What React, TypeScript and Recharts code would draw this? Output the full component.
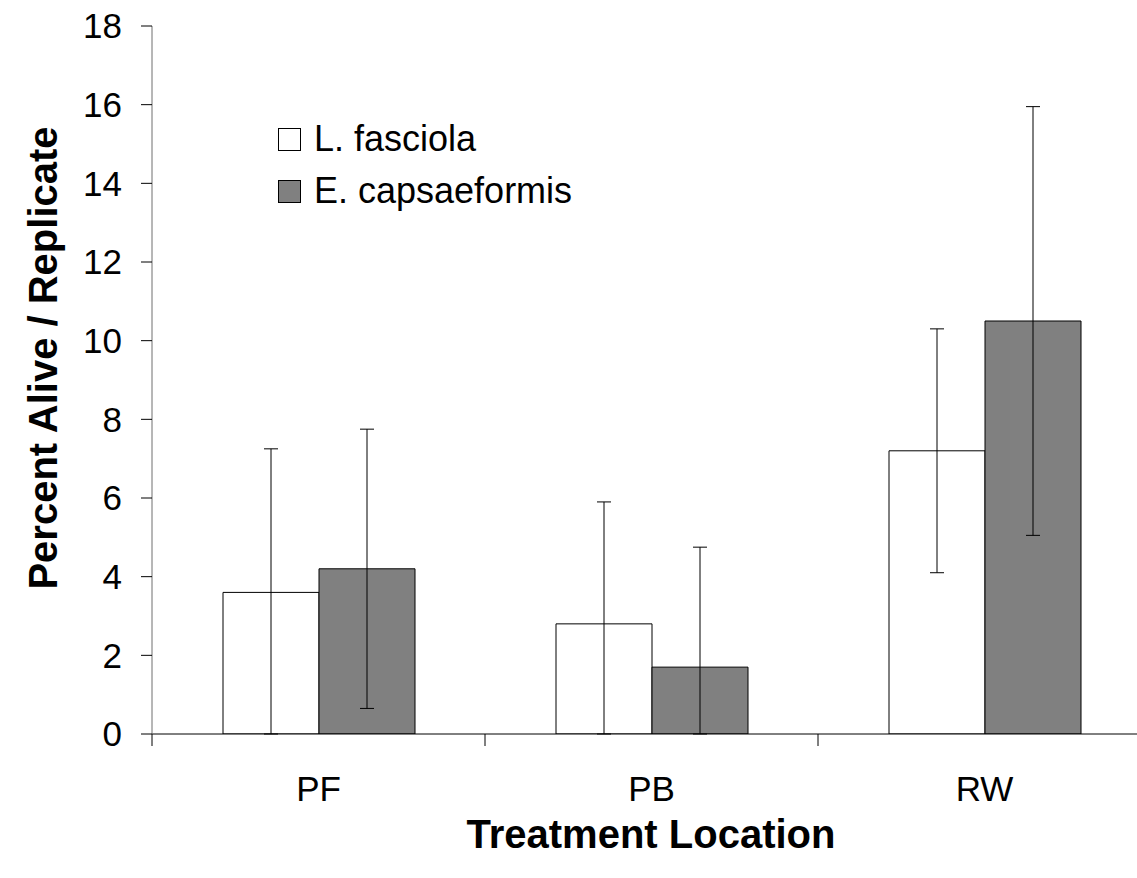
import { Bar, BarChart, ErrorBar, XAxis, YAxis } from 'recharts';

const locations = ['PF', 'PB', 'RW'];
const fasciolaMean = [3.6, 2.8, 7.2];
const fasciolaSd = [3.65, 3.1, 3.1];
const capsaeformisMean = [4.2, 1.7, 10.5];
const capsaeformisSd = [3.55, 3.05, 5.45];
const yTicks = [0, 2, 4, 6, 8, 10, 12, 14, 16, 18];

const FONT = '"Liberation Sans", Arial, Helvetica, sans-serif';
const GREY = '#808080';

const CHART_W = 1165;
const CHART_H = 878;
const MARGIN = { top: 26, right: 14, bottom: 0, left: 0 };
const Y_AXIS_W = 152;
const X_AXIS_H = 144;
const PLOT_BOTTOM = CHART_H - X_AXIS_H;
const BAND = (CHART_W - MARGIN.right - Y_AXIS_W) / locations.length;

// lower whisker stops at zero, the axis floor
const data = locations.map((name, i) => ({
    name,
    fasciola: fasciolaMean[i],
    fasciolaErr: [Math.min(fasciolaSd[i], fasciolaMean[i]), fasciolaSd[i]],
    capsaeformis: capsaeformisMean[i],
    capsaeformisErr: [
        Math.min(capsaeformisSd[i], capsaeformisMean[i]),
        capsaeformisSd[i],
    ],
}));

// category label plus a tick mark at the left edge of its band
const LocationTick = (props: any) => {
    const { x, payload, index } = props;
    const left = x - BAND / 2;
    return (
        <g>
            <line
                x1={left}
                x2={left}
                y1={PLOT_BOTTOM}
                y2={PLOT_BOTTOM + 12}
                stroke="#000"
                strokeWidth={1}
            />
            {index === locations.length - 1 && (
                <line
                    x1={x + BAND / 2}
                    x2={x + BAND / 2}
                    y1={PLOT_BOTTOM}
                    y2={PLOT_BOTTOM + 12}
                    stroke="#000"
                    strokeWidth={1}
                />
            )}
            <text
                x={x}
                y={PLOT_BOTTOM + 67}
                textAnchor="middle"
                fontFamily={FONT}
                fontSize={35}
                fill="#000"
            >
                {payload.value}
            </text>
        </g>
    );
};

const legendItems = [
    { label: 'L. fasciola', fill: '#fff' },
    { label: 'E. capsaeformis', fill: GREY },
];

// legend sits inside the plot, top left
const SpeciesLegend = () => (
    <div
        style={{
            position: 'absolute',
            left: 278,
            top: 113,
            fontFamily: FONT,
        }}
    >
        {legendItems.map((item) => (
            <div
                key={item.label}
                style={{
                    display: 'flex',
                    alignItems: 'center',
                    height: 52,
                }}
            >
                <span
                    style={{
                        width: 21,
                        height: 21,
                        border: '1px solid #000',
                        background: item.fill,
                        marginRight: 13,
                    }}
                />
                <span style={{ fontSize: 36, color: '#000' }}>
                    {item.label}
                </span>
            </div>
        ))}
    </div>
);

export default function App() {
    return (
        <div
            style={{
                position: 'absolute',
                left: 0,
                top: 0,
                width: 1137,
                height: CHART_H,
                overflow: 'hidden',
                background: '#fff',
            }}
        >
            <BarChart
                width={CHART_W}
                height={CHART_H}
                data={data}
                margin={MARGIN}
                barGap={0}
                barSize={96}
            >
                <XAxis
                    dataKey="name"
                    height={X_AXIS_H}
                    axisLine={{ stroke: '#000', strokeWidth: 1 }}
                    tickLine={false}
                    tick={<LocationTick />}
                    interval={0}
                />
                <YAxis
                    width={Y_AXIS_W}
                    domain={[0, 18]}
                    ticks={yTicks}
                    allowDataOverflow
                    axisLine={{ stroke: '#6e6e6e', strokeWidth: 1 }}
                    tickLine={{ stroke: '#000', strokeWidth: 1 }}
                    tickSize={11}
                    tickMargin={19}
                    tick={{ fill: '#000', fontSize: 35, fontFamily: FONT }}
                />
                <Bar
                    dataKey="fasciola"
                    fill="#fff"
                    stroke="#000"
                    strokeWidth={1}
                    isAnimationActive={false}
                >
                    <ErrorBar
                        dataKey="fasciolaErr"
                        width={7}
                        stroke="#000"
                        strokeWidth={1}
                        direction="y"
                    />
                </Bar>
                <Bar
                    dataKey="capsaeformis"
                    fill={GREY}
                    stroke="#000"
                    strokeWidth={1}
                    isAnimationActive={false}
                >
                    <ErrorBar
                        dataKey="capsaeformisErr"
                        width={7}
                        stroke="#000"
                        strokeWidth={1}
                        direction="y"
                    />
                </Bar>
                <text
                    x={57}
                    y={358}
                    transform="rotate(-90 57 358)"
                    textAnchor="middle"
                    fontFamily={FONT}
                    fontSize={40}
                    fontWeight="bold"
                    fill="#000"
                >
                    Percent Alive / Replicate
                </text>
                <text
                    x={651}
                    y={848}
                    textAnchor="middle"
                    fontFamily={FONT}
                    fontSize={40}
                    fontWeight="bold"
                    fill="#000"
                >
                    Treatment Location
                </text>
            </BarChart>
            <SpeciesLegend />
        </div>
    );
}
